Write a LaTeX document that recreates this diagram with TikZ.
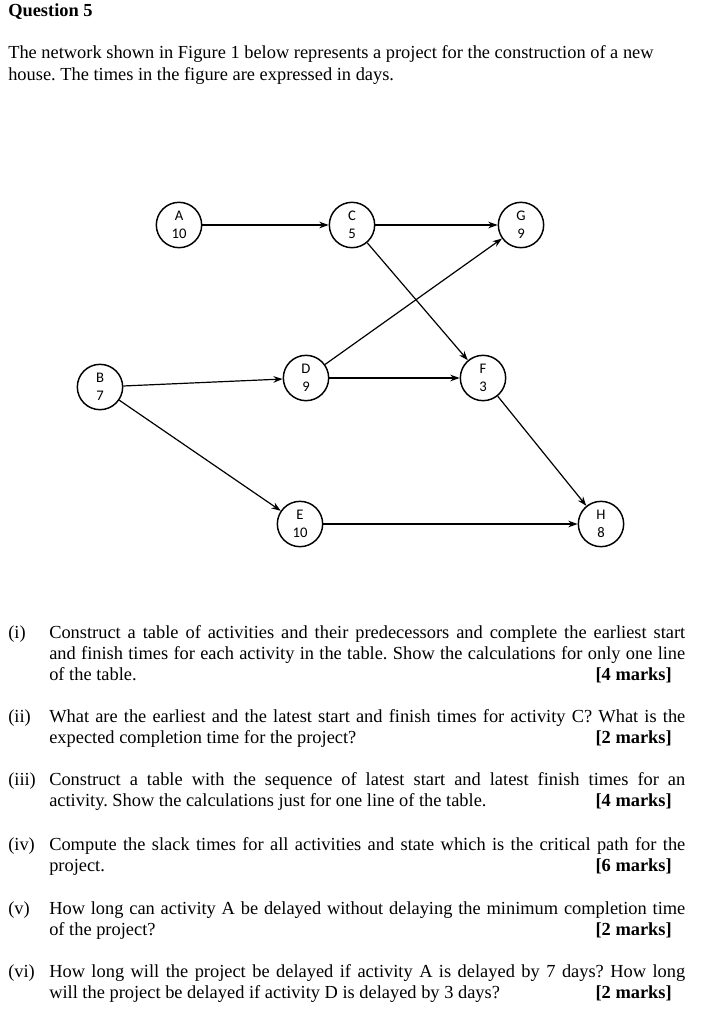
\documentclass[tikz,border=0pt]{standalone}
\usepackage{fontspec}
\setmainfont{Liberation Serif}
\newfontfamily\nodefont{Carlito}
\usetikzlibrary{arrows.meta}
\newcommand{\fl}[1]{\makebox[477pt][s]{#1}}
\frenchspacing
\begin{document}
\begin{tikzpicture}[x=0.75pt,y=-0.75pt,
  act/.style={circle,draw,line width=1.1pt,minimum size=34pt,inner sep=0pt,align=center,font=\nodefont\fontsize{11}{13.5}\selectfont},
  con/.style={line width=0.9pt,-{Stealth[length=7pt,width=5pt]}},
  tx/.style={anchor=base west,inner sep=0pt,font=\fontsize{13.8}{16}\selectfont},
  mk/.style={anchor=base east,inner sep=0pt,font=\bfseries\fontsize{13.8}{16}\selectfont}]
\useasboundingbox (0,0) rectangle (702,1024);
\node[tx,font=\bfseries\fontsize{13.8}{16}\selectfont] (title) at (8,17) {Question 5};
\node[tx] (p1) at (8,59) {The network shown in Figure 1 below represents a project for the construction of a new};
\node[tx] (p2) at (8,80) {house. The times in the figure are expressed in days.};

\node[act] (A) at (179,225) {A\\10};
\node[act] (C) at (352,225) {C\\5};
\node[act] (G) at (521,225) {G\\9};
\node[act] (B) at (100,387) {B\\7};
\node[act] (D) at (306,378) {D\\9};
\node[act] (F) at (483,378) {F\\3};
\node[act] (E) at (300,524) {E\\10};
\node[act] (H) at (601,524) {H\\8};
\draw[con] (A) -- (C);
\draw[con] (C) -- (G);
\draw[con] (C) -- (F);
\draw[con] (D) -- (G);
\draw[con] (B) -- (D);
\draw[con] (D) -- (F);
\draw[con] (B) -- (E);
\draw[con] (F) -- (H);
\draw[con] (E) -- (H);

\node[tx] (l1) at (8,638) {(i)};
\node[tx] (t1a) at (49,638) {\fl{Construct a table of activities and their predecessors and complete the earliest start}};
\node[tx] (t1b) at (49,659) {\fl{and finish times for each activity in the table. Show the calculations for only one line}};
\node[tx] (t1c) at (49,680) {of the table.};
\node[mk] (m1) at (672,680) {[4 marks]};

\node[tx] (l2) at (8,722) {(ii)};
\node[tx] (t2a) at (49,722) {\fl{What are the earliest and the latest start and finish times for activity C? What is the}};
\node[tx] (t2b) at (49,743) {expected completion time for the project?};
\node[mk] (m2) at (672,743) {[2 marks]};

\node[tx] (l3) at (8,785) {(iii)};
\node[tx] (t3a) at (49,785) {\fl{Construct a table with the sequence of latest start and latest finish times for an}};
\node[tx] (t3b) at (49,806) {activity. Show the calculations just for one line of the table.};
\node[mk] (m3) at (672,806) {[4 marks]};

\node[tx] (l4) at (8,850) {(iv)};
\node[tx] (t4a) at (49,850) {\fl{Compute the slack times for all activities and state which is the critical path for the}};
\node[tx] (t4b) at (49,871) {project.};
\node[mk] (m4) at (672,871) {[6 marks]};

\node[tx] (l5) at (8,914) {(v)};
\node[tx] (t5a) at (49,914) {\fl{How long can activity A be delayed without delaying the minimum completion time}};
\node[tx] (t5b) at (49,935) {of the project?};
\node[mk] (m5) at (672,935) {[2 marks]};

\node[tx] (l6) at (8,977) {(vi)};
\node[tx] (t6a) at (49,977) {\fl{How long will the project be delayed if activity A is delayed by 7 days? How long}};
\node[tx] (t6b) at (49,998) {will the project be delayed if activity D is delayed by 3 days?};
\node[mk] (m6) at (672,998) {[2 marks]};
\end{tikzpicture}
\end{document}
